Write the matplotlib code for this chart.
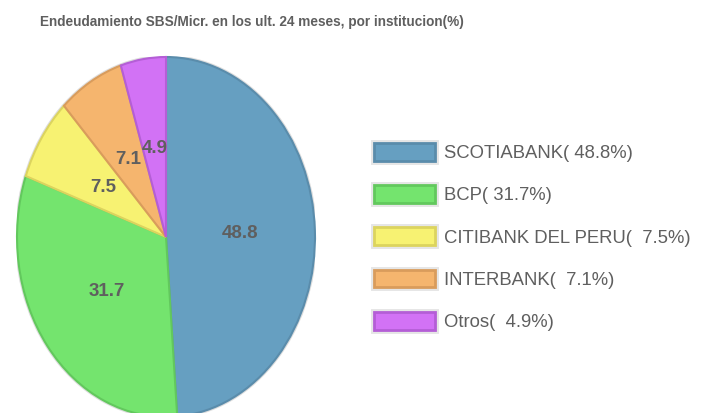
import matplotlib
matplotlib.use('Agg')
import matplotlib.pyplot as plt
import matplotlib.patheffects as pe
from matplotlib.patches import Patch, Ellipse

plt.rcParams['font.family'] = ['Liberation Sans', 'DejaVu Sans']

institutions = ['SCOTIABANK', 'BCP', 'CITIBANK DEL PERU', 'INTERBANK', 'Otros']
shares = [48.8, 31.7, 7.5, 7.1, 4.9]
legend_labels = ['SCOTIABANK( 48.8%)', 'BCP( 31.7%)', 'CITIBANK DEL PERU(  7.5%)',
                 'INTERBANK(  7.1%)', 'Otros(  4.9%)']

faces = ['#669fc1', '#74e46e', '#f7f272', '#f5b56e', '#d272f5']
edges = ['#5a8cab', '#62c85d', '#dcd45e', '#d99c5c', '#b45ed6']
text_grey = '#5f5f5f'

fig = plt.figure(figsize=(7.08, 4.13), dpi=100)
ax = fig.add_axes([17 / 708, -4 / 413, 298 / 708, 360 / 413])

wedges, texts = ax.pie(shares, startangle=90, counterclock=False, colors=faces,
                       labels=[f'{v:.1f}' for v in shares], labeldistance=0.5,
                       wedgeprops=dict(linewidth=1.5))
for w, ec in zip(wedges, edges):
    w.set_edgecolor(ec)
for t in texts:
    t.set_ha('center')
    t.set_va('center')
    t.set_fontsize(13.5)
    t.set_fontweight('bold')
    t.set_color(text_grey)
ax.add_patch(Ellipse((0, 0), 2.0, 2.0, facecolor='none', edgecolor='#dddddd', lw=3, zorder=0))
ax.set_aspect('auto')
ax.set_xlim(-1.0, 1.0)
ax.set_ylim(-1.0, 1.0)

fig.text(252 / 708, 1 - 22 / 413, 'Endeudamiento SBS/Micr. en los ult. 24 meses, por institucion(%)',
         ha='center', va='center', fontsize=9.8, fontweight='bold', color=text_grey)

shadow = [pe.Stroke(linewidth=5, foreground='#e6e6e6'), pe.Normal()]
handles = [Patch(facecolor=f, edgecolor=e, linewidth=2, path_effects=shadow)
           for f, e in zip(faces, edges)]
fig.legend(handles, legend_labels, loc='center left', bbox_to_anchor=(374 / 708, 1 - 237 / 413),
           frameon=False, fontsize=13.3, handlelength=3.3, handleheight=1.1,
           labelspacing=1.25, handletextpad=0.5, borderpad=0, borderaxespad=0,
           labelcolor=text_grey)

fig.savefig('out.png', dpi=100)
